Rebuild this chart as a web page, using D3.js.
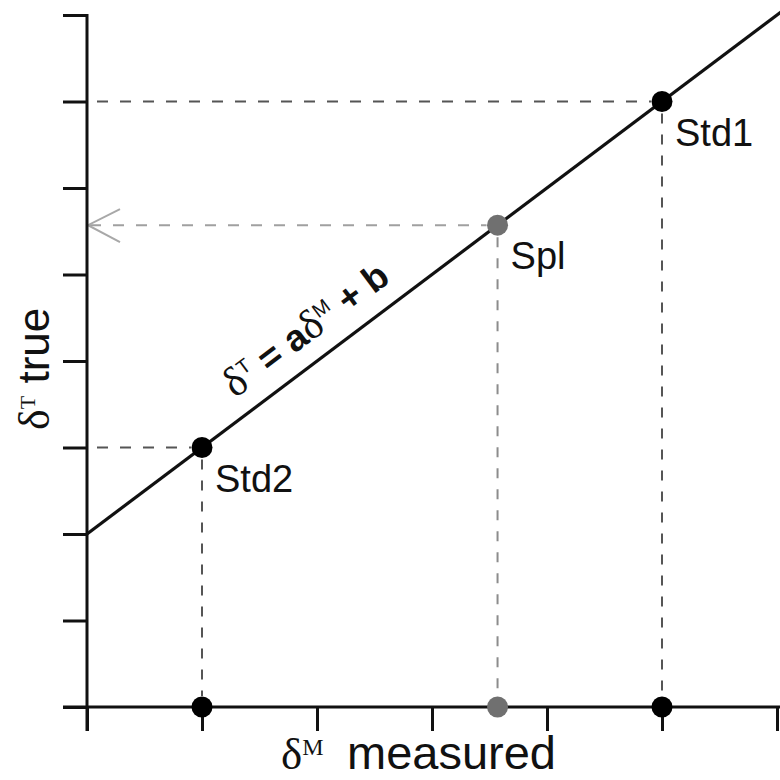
<!DOCTYPE html>
<html>
<head>
<meta charset="utf-8">
<script src="https://cdn.jsdelivr.net/npm/d3@7"></script>
<style>
  html, body { margin: 0; padding: 0; background: #fff; }
  svg { display: block; }
</style>
</head>
<body>
<svg id="chart" width="780" height="780"></svg>
<script>
// ---- data ----
const xTicks = [0, 1, 2, 3, 4, 5, 6];
const yTicks = [0, 1, 2, 3, 4, 5, 6, 7, 8];
const pointNames = ["Std1", "Spl", "Std2"];
const pointX = [5, 3.57, 1];
const pointY = [7, 5.57, 3];
const pointKind = ["std", "spl", "std"];
const lineX = [0, 6.2];
const lineY = [2, 8.2];
const eqAnchorX = 2.07, eqAnchorY = 4.07;

// ---- layout ----
const svg = d3.select("#chart");
const W = 780;
const x = d3.scaleLinear().domain([0, 6]).range([87, 777]);
const y = d3.scaleLinear().domain([0, 8]).range([707, 15]);
const tickLen = 24;
const sans = "'Liberation Sans', Arial, Helvetica, sans-serif";
const serif = "'Liberation Serif', 'Times New Roman', serif";
const dark = "#111";

// dashed guide lines
const pts = pointNames.map((n, i) => ({ name: n, x: pointX[i], y: pointY[i], kind: pointKind[i] }));
const guides = svg.append("g");
pts.forEach(p => {
  const col = p.kind === "spl" ? "#8c8c8c" : "#555";
  guides.append("line")
    .attr("x1", x(p.x)).attr("x2", x(p.x))
    .attr("y1", y(p.y) + 12).attr("y2", y(0) - 11)
    .attr("stroke", col).attr("stroke-width", 2).attr("stroke-dasharray", "10,11");
  guides.append("line")
    .attr("x1", x(0) + (p.kind === "spl" ? 3 : 10)).attr("x2", x(p.x) - 11)
    .attr("y1", y(p.y)).attr("y2", y(p.y))
    .attr("stroke", p.kind === "spl" ? "#a0a0a0" : "#555").attr("stroke-width", 2)
    .attr("stroke-dasharray", "11,12");
});

// arrow head for the sample
const spl = pts.find(p => p.kind === "spl");
svg.append("path")
  .attr("d", `M${x(0) + 33},${y(spl.y) - 16} L${x(0) + 1},${y(spl.y)} L${x(0) + 33},${y(spl.y) + 17}`)
  .attr("fill", "none").attr("stroke", "#a8a8a8").attr("stroke-width", 2);

// axes
const yAxis = d3.axisLeft(y).tickValues(yTicks).tickSize(tickLen).tickSizeOuter(0).tickFormat(() => "");
const gy = svg.append("g").attr("transform", `translate(${x(0)},0)`).call(yAxis);
gy.select(".domain").remove();
gy.selectAll(".tick line").attr("stroke", dark).attr("stroke-width", 3);

const xAxis = d3.axisBottom(x).tickValues(xTicks).tickSize(tickLen).tickSizeOuter(0).tickFormat(() => "");
const gx = svg.append("g").attr("transform", `translate(0,${y(0)})`).call(xAxis);
gx.select(".domain").remove();
gx.selectAll(".tick line").attr("stroke", dark).attr("stroke-width", 3);

svg.append("line")
  .attr("x1", x(0)).attr("x2", x(0)).attr("y1", y(8) - 1).attr("y2", y(0) + tickLen)
  .attr("stroke", dark).attr("stroke-width", 3);
svg.append("line")
  .attr("x1", x(0) - tickLen).attr("x2", W).attr("y1", y(0)).attr("y2", y(0))
  .attr("stroke", dark).attr("stroke-width", 3);

// calibration line
svg.append("line")
  .attr("x1", x(lineX[0])).attr("y1", y(lineY[0]))
  .attr("x2", x(lineX[1])).attr("y2", y(lineY[1]))
  .attr("stroke", dark).attr("stroke-width", 3.2);

// points on line and projections on x axis
pts.forEach(p => {
  const col = p.kind === "spl" ? "#707070" : "#000";
  svg.append("circle").attr("cx", x(p.x)).attr("cy", y(p.y)).attr("r", 10.5).attr("fill", col);
  svg.append("circle").attr("cx", x(p.x)).attr("cy", y(0)).attr("r", 10.5).attr("fill", col);
  svg.append("text")
    .attr("x", x(p.x) + 13).attr("y", y(p.y) + 44)
    .attr("font-family", sans).attr("font-size", 38).attr("fill", "#111")
    .text(p.name);
});

// equation label
const ang = Math.atan2(y(lineY[0]) - y(lineY[1]), x(lineX[1]) - x(lineX[0])) * 180 / Math.PI;
const eq = svg.append("text")
  .attr("transform", `translate(${x(eqAnchorX)},${y(eqAnchorY)}) rotate(${-ang})`)
  .attr("x", 0).attr("y", -19)
  .attr("text-anchor", "middle")
  .attr("font-family", sans).attr("font-size", 37).attr("font-weight", "bold").attr("fill", "#111");
eq.append("tspan").attr("font-family", serif).attr("font-weight", "normal").attr("font-size", 42).text("δ");
eq.append("tspan").attr("font-family", sans).attr("font-weight", "normal").attr("font-size", 20).attr("dy", -14).text("T");
eq.append("tspan").attr("dy", 14).text(" = a");
eq.append("tspan").attr("font-family", serif).attr("font-weight", "normal").attr("font-size", 42).text("δ");
eq.append("tspan").attr("font-family", sans).attr("font-weight", "normal").attr("font-size", 20).attr("dy", -14).text("M");
eq.append("tspan").attr("dy", 14).text(" + b");

// x axis title
const xt = svg.append("text").attr("x", 281).attr("y", 769)
  .attr("font-family", sans).attr("font-size", 47).attr("fill", "#111");
xt.append("tspan").attr("font-family", serif).attr("font-size", 45).text("δ");
xt.append("tspan").attr("font-family", serif).attr("font-size", 24).attr("dy", -14).text("M");
xt.append("tspan").attr("x", 347).attr("dy", 14).text("measured");

// y axis title
const yt = svg.append("text")
  .attr("transform", "translate(49,430) rotate(-90)")
  .attr("font-family", sans).attr("font-size", 44).attr("fill", "#111");
yt.append("tspan").attr("font-family", serif).attr("font-size", 44).text("δ");
yt.append("tspan").attr("font-family", serif).attr("font-size", 22).attr("dy", -14).text("T");
yt.append("tspan").attr("dy", 14).text(" true");
</script>
</body>
</html>
